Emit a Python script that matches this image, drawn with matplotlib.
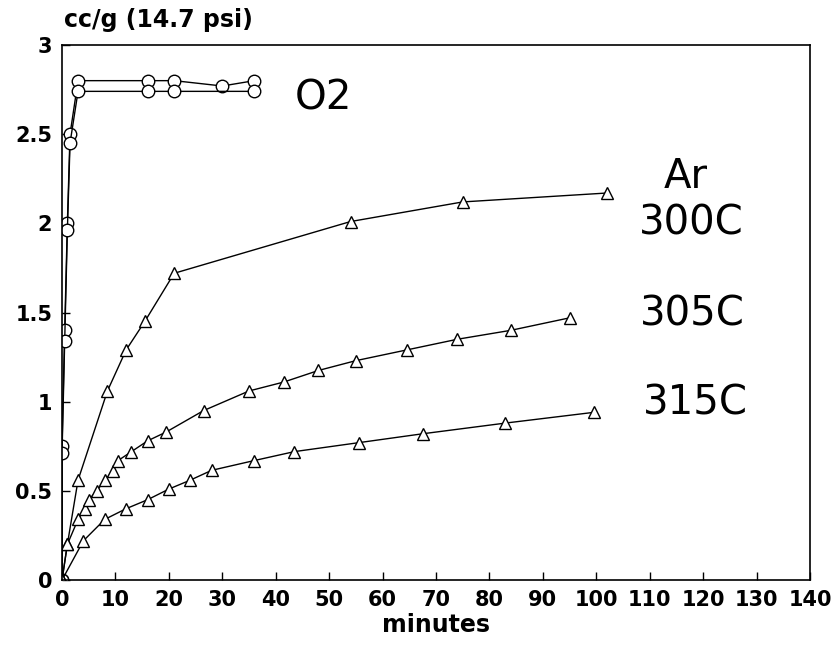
import matplotlib
matplotlib.use("Agg")
import matplotlib.pyplot as plt

# O2 runs (two repeats, circles)
o2a_x = [0, 0, 0.5, 1, 1.5, 3, 16, 21, 30, 36]
o2a_y = [0, 0.75, 1.40, 2.00, 2.50, 2.80, 2.80, 2.80, 2.77, 2.80]
o2b_x = [0, 0, 0.5, 1, 1.5, 3, 16, 21, 36]
o2b_y = [0, 0.71, 1.34, 1.96, 2.45, 2.74, 2.74, 2.74, 2.74]

# Ar runs (triangles)
ar300_x = [0, 1, 3, 8.5, 12, 15.5, 21, 54, 75, 102]
ar300_y = [0, 0.20, 0.56, 1.06, 1.29, 1.45, 1.72, 2.01, 2.12, 2.17]

ar305_x = [0, 1, 3, 4.3, 5, 6.5, 8, 9.5, 10.5, 13, 16, 19.5, 26.5, 35, 41.5, 48, 55, 64.5, 74, 84, 95]
ar305_y = [0, 0.20, 0.34, 0.40, 0.45, 0.50, 0.56, 0.61, 0.67, 0.72, 0.78, 0.83,
           0.95, 1.06, 1.11, 1.175, 1.23, 1.29, 1.35, 1.40, 1.47]

ar315_x = [0, 4, 8, 12, 16, 20, 24, 28, 36, 43.5, 55.5, 67.5, 83, 99.5]
ar315_y = [0, 0.22, 0.34, 0.40, 0.45, 0.51, 0.56, 0.615, 0.67, 0.72, 0.77, 0.82, 0.88, 0.94]

x_ticks = list(range(0, 141, 10))
y_ticks = [0, 0.5, 1, 1.5, 2, 2.5, 3]
y_tick_labels = ["0", "0.5", "1", "1.5", "2", "2.5", "3"]

plt.rcParams['font.family'] = ['DejaVu Sans']

fig = plt.figure(figsize=(8.37, 6.52), dpi=100)
ax = fig.add_axes([0.0741, 0.1104, 0.8936, 0.8206])

circ = dict(color="black", lw=1.0, marker="o", ms=9, mfc="white", mec="black", mew=1.0)
tri = dict(color="black", lw=1.0, marker="^", ms=9, mfc="white", mec="black", mew=1.0)

ax.plot(o2a_x, o2a_y, **circ)
ax.plot(o2b_x, o2b_y, **circ)
ax.plot(ar300_x, ar300_y, **tri)
ax.plot(ar305_x, ar305_y, **tri)
ax.plot(ar315_x, ar315_y, **tri)

ax.set_xlim(0, 140)
ax.set_ylim(0, 3)
ax.set_xticks(x_ticks)
ax.set_xticklabels([str(t) for t in x_ticks], fontsize=15, fontweight="bold")
ax.set_yticks(y_ticks)
ax.set_yticklabels(y_tick_labels, fontsize=15, fontweight="bold")
ax.tick_params(direction="in", length=6, width=1, top=False, right=False, pad=7)
for s in ax.spines.values():
    s.set_linewidth(1.2)

ax.set_xlabel("minutes", fontsize=17, fontweight="bold", labelpad=2)
fig.text(0.076, 0.969, "cc/g (14.7 psi)", fontsize=17, fontweight="bold", va="center", ha="left")

big = dict(fontsize=29, ha="center", va="center")
ax.text(49, 2.70, "O2", **big)
ax.text(116.8, 2.26, "Ar", **big)
ax.text(117.7, 2.0, "300C", **big)
ax.text(118, 1.49, "305C", **big)
ax.text(118.5, 0.99, "315C", **big)

fig.savefig("out.png", dpi=100)
